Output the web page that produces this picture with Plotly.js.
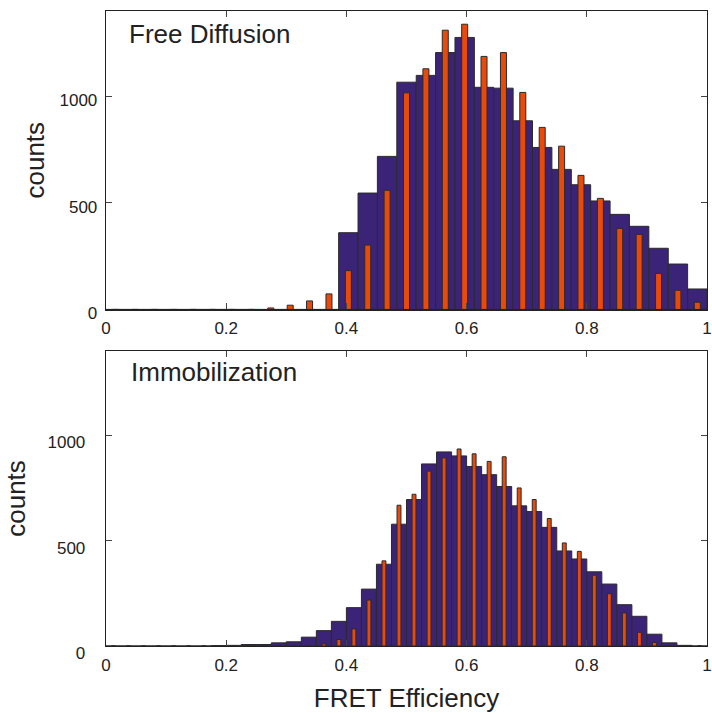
<!DOCTYPE html>
<html>
<head>
<meta charset="utf-8">
<script src="https://cdn.plot.ly/plotly-3.0.1.min.js"></script>
<style>html,body{margin:0;padding:0;background:#fff;}#chart{width:712px;height:713px;}</style>
</head>
<body>
<div id="chart"></div>
<script>
// ---- Free Diffusion panel: 31 bins of width 1/31 ----
const freeBinCenters = [0.0161,0.0484,0.0806,0.1129,0.1452,0.1774,0.2097,0.2419,0.2742,0.3065,
  0.3387,0.3710,0.4032,0.4355,0.4677,0.5000,0.5323,0.5645,0.5968,0.6290,
  0.6613,0.6935,0.7258,0.7581,0.7903,0.8226,0.8548,0.8871,0.9194,0.9516,0.9839];
const freePurple = [0,0,0,0,0,0,0,0,0,0,0,0,
  360,546,718,1066,1098,1205,1276,1042,1038,885,760,657,585,509,446,390,287,213,96];
const freeOrange = [0,0,0,0,0,0,0,0,7,20,40,73,
  182,302,559,1016,1129,1310,1338,1187,1205,1018,854,766,629,521,380,352,169,90,34];

// ---- Immobilization panel: 40 bins of width 0.025 ----
const immoBinCenters = [0.0125,0.0375,0.0625,0.0875,0.1125,0.1375,0.1625,0.1875,0.2125,0.2375,
  0.2625,0.2875,0.3125,0.3375,0.3625,0.3875,0.4125,0.4375,0.4625,0.4875,
  0.5125,0.5375,0.5625,0.5875,0.6125,0.6375,0.6625,0.6875,0.7125,0.7375,
  0.7625,0.7875,0.8125,0.8375,0.8625,0.8875,0.9125,0.9375,0.9625,0.9875];
const immoPurple = [0,0,0,0,0,0,0,2,3,7,
  7,15,20,42,73,117,182,270,388,578,
  695,864,921,902,852,813,757,665,638,563,
  451,413,352,294,196,141,56,15,3,0];
const immoOrange = [0,0,0,0,0,0,0,0,0,0,
  0,0,0,0,10,31,81,218,404,668,
  720,830,893,935,912,876,898,750,695,605,
  489,449,336,248,157,65,17,0,0,0];

const xTickVals = [0,0.2,0.4,0.6,0.8,1];
const xTickText = ['0','0.2','0.4','0.6','0.8','1'];
const yTickVals = [0,500,1000];
const yTickText = ['0','500','1000'];
const panelLabels = ['Free Diffusion','Immobilization'];

const PURPLE = 'rgb(59,36,120)';
const ORANGE = 'rgb(232,74,12)';
const EDGE = '#2a2a2a';
const FONT = 'Liberation Sans, Arial, Helvetica, sans-serif';
const TXT = '#222';

const traces = [
  {type:'bar', x:freeBinCenters, y:freePurple, width:1/31, xaxis:'x', yaxis:'y',
   marker:{color:PURPLE, line:{color:EDGE, width:1}}, hoverinfo:'x+y'},
  {type:'bar', x:freeBinCenters, y:freeOrange, width:0.01, xaxis:'x', yaxis:'y',
   marker:{color:ORANGE, line:{color:EDGE, width:1}}, hoverinfo:'x+y'},
  {type:'bar', x:immoBinCenters, y:immoPurple, width:0.025, xaxis:'x2', yaxis:'y2',
   marker:{color:PURPLE, line:{color:EDGE, width:1}}, hoverinfo:'x+y'},
  {type:'bar', x:immoBinCenters, y:immoOrange, width:0.0065, xaxis:'x2', yaxis:'y2',
   marker:{color:ORANGE, line:{color:EDGE, width:1}}, hoverinfo:'x+y'}
];

function xAxis(anchor, title){
  const a = {anchor:anchor, domain:[0,1], range:[0,1], tickvals:xTickVals, ticktext:xTickText,
    ticks:'inside', ticklen:6, tickwidth:1, tickcolor:'#444',
    showline:true, linecolor:'#222', linewidth:1.3, mirror:'ticks',
    showgrid:false, zeroline:false, ticklabelstandoff:3,
    tickfont:{family:FONT, size:17, color:TXT}};
  if (title) a.title = {text:title, font:{family:FONT, size:26, color:TXT}, standoff:18};
  return a;
}
function yAxis(anchor, domain, standoff, shift, titleStandoff){
  return {anchor:anchor, domain:domain, range:[0,1400], tickvals:yTickVals, ticktext:yTickText,
    ticks:'inside', ticklen:6, tickwidth:1, tickcolor:'#444',
    showline:true, linecolor:'#222', linewidth:1.3, mirror:'ticks',
    showgrid:false, zeroline:false, ticklabelstandoff:standoff, ticklabelshift:shift,
    tickfont:{family:FONT, size:17, color:TXT},
    title:{text:'counts', font:{family:FONT, size:26, color:TXT}, standoff:titleStandoff}};
}

const layout = {
  width:712, height:713,
  margin:{l:106, r:5, t:11, b:67},
  paper_bgcolor:'#fff', plot_bgcolor:'#fff',
  showlegend:false, barmode:'overlay', bargap:0,
  xaxis: xAxis('y', null),
  yaxis: yAxis('x', [0.53,1], 4, 4, 7),
  xaxis2: xAxis('y2', 'FRET Efficiency'),
  yaxis2: yAxis('x2', [0,0.4646], 16, 7, 14),
  annotations:[
    {text:panelLabels[0], xref:'x domain', yref:'y domain', x:0.035, y:0.923,
     xanchor:'left', yanchor:'middle', showarrow:false, font:{family:FONT, size:26, color:TXT}},
    {text:panelLabels[1], xref:'x2 domain', yref:'y2 domain', x:0.038, y:0.93,
     xanchor:'left', yanchor:'middle', showarrow:false, font:{family:FONT, size:26, color:TXT}}
  ]
};

Plotly.newPlot('chart', traces, layout, {displayModeBar:false, staticPlot:true});
</script>
</body>
</html>
